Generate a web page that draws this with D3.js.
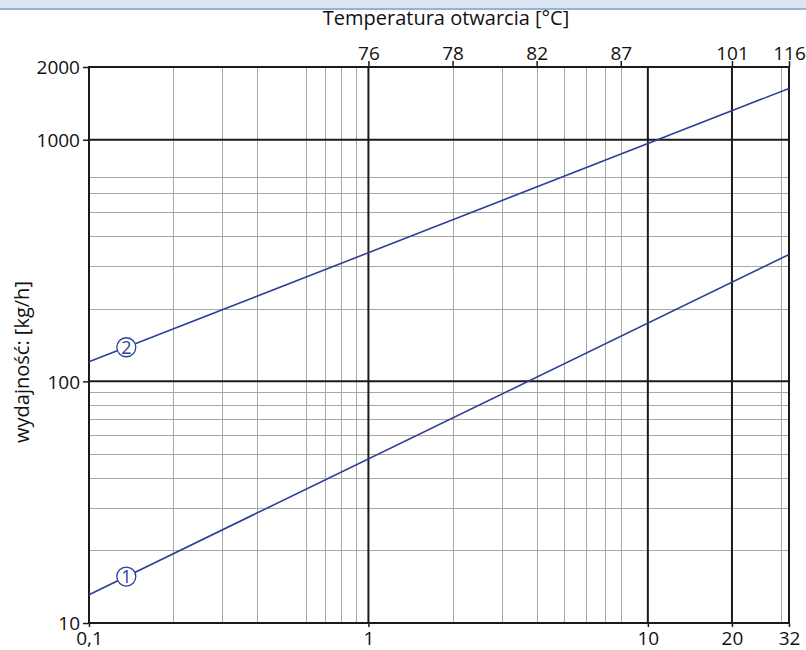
<!DOCTYPE html>
<html><head><meta charset="utf-8">
<script src="https://cdn.jsdelivr.net/npm/d3@7/dist/d3.min.js"></script>
<style>
html,body{margin:0;padding:0;background:#fff;}
svg{display:block;font-family:"Open Sans",sans-serif;}
</style></head>
<body><svg id="chart" width="806" height="650"></svg>
<script>
// ---- data ----
const xDomain = [0.1, 32];
const yDomain = [10, 2000];
const bottomTicks = [0.1, 1, 10, 20, 32];
const bottomTickLabels = ["0,1", "1", "10", "20", "32"];
const leftTicks = [10, 100, 1000, 2000];
const leftTickLabels = ["10", "100", "1000", "2000"];
const topTickPositions = [1, 2, 4, 8, 20, 32];
const topTickLabels = ["76", "78", "82", "87", "101", "116"];
const xMinorGrid = [0.2, 0.3, 0.4, 0.6, 0.7, 0.8, 0.9, 2, 3, 4, 5, 6, 7, 8, 30];
const xMajorGrid = [1, 10, 20];
const yMinorGrid = [20, 30, 40, 50, 60, 70, 80, 90, 200, 300, 400, 500, 600, 700];
const yMajorGrid = [100, 1000];
const series1 = [{x: 0.1, y: 13.1}, {x: 32, y: 335}];
const series2 = [{x: 0.1, y: 120.5}, {x: 32, y: 1630}];
const seriesNames = ["1", "2"];
const markerX = 0.136;
const xTitle = "Temperatura otwarcia [°C]";
const yTitle = "wydajność: [kg/h]";

// ---- layout ----
const pL = 89, pR = 789, pT = 67, pB = 623;
const svg = d3.select("#chart");
const x = d3.scaleLog().domain(xDomain).range([pL, pR]);
const y = d3.scaleLog().domain(yDomain).range([pB, pT]);
const lineColor = "#2e3f98";
const ink = "#111";

// top band
svg.append("rect").attr("x", 0).attr("y", 0).attr("width", 806).attr("height", 8).attr("fill", "#dbe5f1");
svg.append("rect").attr("x", 0).attr("y", 8).attr("width", 806).attr("height", 2).attr("fill", "#95b3d7");

const grid = svg.append("g");
grid.selectAll(".xmin").data(xMinorGrid).enter().append("line")
  .attr("x1", d => Math.round(x(d)) + 0.5).attr("x2", d => Math.round(x(d)) + 0.5)
  .attr("y1", pT).attr("y2", pB).attr("stroke", "#a8a8a8").attr("stroke-width", 1);
grid.selectAll(".ymin").data(yMinorGrid).enter().append("line")
  .attr("y1", d => Math.round(y(d)) + 0.5).attr("y2", d => Math.round(y(d)) + 0.5)
  .attr("x1", pL).attr("x2", pR).attr("stroke", "#a8a8a8").attr("stroke-width", 1);
grid.selectAll(".xmaj").data(xMajorGrid).enter().append("line")
  .attr("x1", d => x(d)).attr("x2", d => x(d))
  .attr("y1", pT).attr("y2", pB).attr("stroke", "#1a1a1a").attr("stroke-width", 2);
grid.selectAll(".ymaj").data(yMajorGrid).enter().append("line")
  .attr("y1", d => y(d)).attr("y2", d => y(d))
  .attr("x1", pL).attr("x2", pR).attr("stroke", "#1a1a1a").attr("stroke-width", 2);

// border
svg.append("rect").attr("x", pL).attr("y", pT).attr("width", pR - pL).attr("height", pB - pT)
  .attr("fill", "none").attr("stroke", "#1a1a1a").attr("stroke-width", 2);

// axes
const fs = 19;
const bAxis = d3.axisBottom(x).tickValues(bottomTicks).tickFormat((d, i) => bottomTickLabels[i]).tickSizeOuter(0).tickSize(4);
const gb = svg.append("g").attr("transform", `translate(0,${pB})`).call(bAxis);
const lAxis = d3.axisLeft(y).tickValues(leftTicks).tickFormat((d, i) => leftTickLabels[i]).tickSizeOuter(0).tickSize(6).tickPadding(3);
const gl = svg.append("g").attr("transform", `translate(${pL},0)`).call(lAxis);
const tAxis = d3.axisTop(x).tickValues(topTickPositions).tickFormat((d, i) => topTickLabels[i]).tickSizeOuter(0).tickSize(6);
const gt = svg.append("g").attr("transform", `translate(0,${pT})`).call(tAxis);
[gb, gl, gt].forEach(g => {
  g.select(".domain").remove();
  g.selectAll(".tick line").attr("stroke", "#1a1a1a").attr("stroke-width", 1.5);
  g.selectAll(".tick text").attr("font-size", fs).attr("font-family", "'Open Sans', sans-serif").attr("fill", ink);
});
gb.selectAll(".tick text").attr("y", 21.5).attr("dy", null);
gt.selectAll(".tick text").attr("y", -7).attr("dy", null);
gl.selectAll(".tick text").attr("dy", "0.35em");

// titles
svg.append("text").attr("x", 446).attr("y", 25).attr("text-anchor", "middle")
  .attr("font-size", 20).attr("fill", ink).text(xTitle);
svg.append("text").attr("transform", "translate(29,362) rotate(-90)").attr("text-anchor", "middle")
  .attr("font-size", 20).attr("fill", ink).text(yTitle);

// series lines
const line = d3.line().x(d => x(d.x)).y(d => y(d.y));
const allSeries = [series1, series2];
svg.selectAll(".series").data(allSeries).enter().append("path")
  .attr("d", line).attr("fill", "none").attr("stroke", lineColor).attr("stroke-width", 1.6);

// markers
function valueAt(s, xv) {
  const t = (Math.log(xv) - Math.log(s[0].x)) / (Math.log(s[1].x) - Math.log(s[0].x));
  return Math.exp(Math.log(s[0].y) + t * (Math.log(s[1].y) - Math.log(s[0].y)));
}
allSeries.forEach((s, i) => {
  const cx = x(markerX), cy = y(valueAt(s, markerX));
  svg.append("circle").attr("cx", cx).attr("cy", cy).attr("r", 9.5)
    .attr("fill", "#fff").attr("stroke", lineColor).attr("stroke-width", 1.3);
  svg.append("text").attr("x", cx).attr("y", cy).attr("dy", "0.36em").attr("text-anchor", "middle")
    .attr("font-size", 18).attr("fill", lineColor).text(seriesNames[i]);
});
</script></body></html>
